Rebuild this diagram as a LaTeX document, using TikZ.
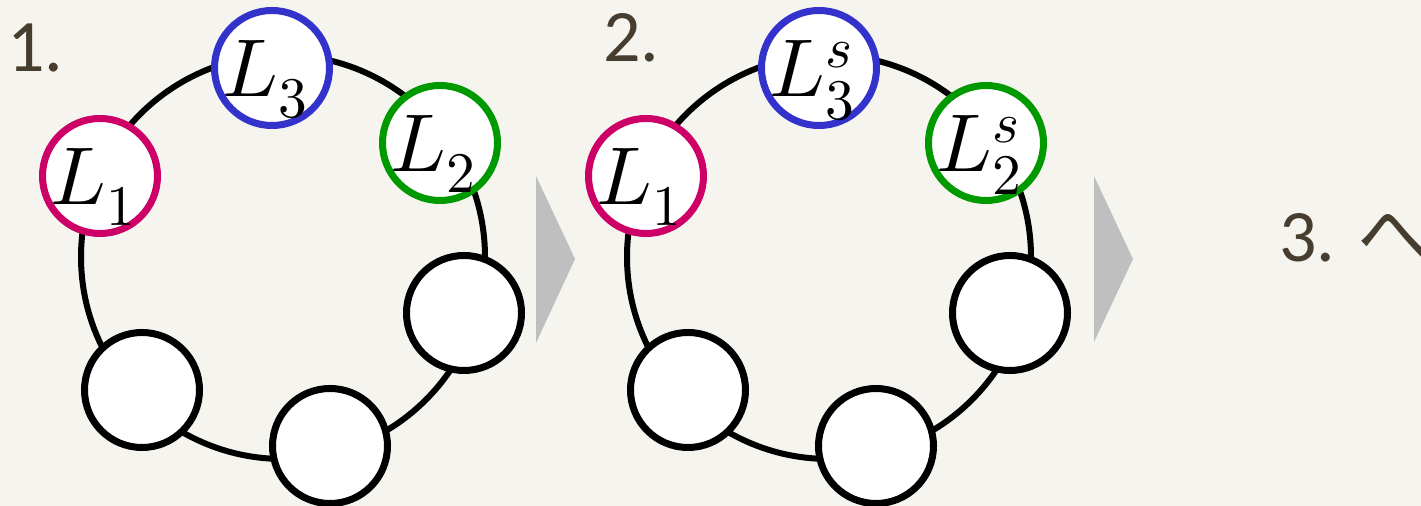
\documentclass[tikz,border=0pt]{standalone}
\usepackage{unicode-math}
\setmainfont{Carlito}
\setmathfont{Latin Modern Math}
\newfontfamily\jpfont{Noto Sans CJK JP}

\definecolor{bg}{HTML}{F5F4EF}
\definecolor{ink}{HTML}{473D2E}
\definecolor{lmag}{HTML}{CC0066}
\definecolor{lblue}{HTML}{3333CC}
\definecolor{lgreen}{HTML}{009900}
\definecolor{chev}{HTML}{BFBFBF}

\tikzset{
  site/.style={circle, draw=black, fill=white, line width=3.5pt,
               minimum size=57.5pt, inner sep=0pt},
  ringline/.style={line width=3pt, draw=black},
  lab/.style={anchor=base west, inner sep=0pt, font=\fontsize{41}{41}\selectfont},
  stepnum/.style={anchor=base west, inner sep=0pt, text=ink,
                  font=\fontsize{37}{37}\selectfont},
  chevron/.style={fill=chev, draw=none},
}

\begin{document}
\begin{tikzpicture}[x=0.5pt,y=-0.5pt]
\fill[bg] (0,0) rectangle (1421,506);
\useasboundingbox (0,0) rectangle (1421,506);

% ---- step 1 ring ----
\coordinate (c1) at (283,257);
\draw[ringline] (c1) circle[radius=202];
\node[site, draw=lmag]   (a1) at (100,176) {};
\node[site, draw=lblue]  (a3) at (272,68)  {};
\node[site, draw=lgreen] (a2) at (440,143) {};
\node[site] (a4) at (464,313) {};
\node[site] (a5) at (330,446) {};
\node[site] (a6) at (142,390) {};
\node[lab] (a1t) at ([shift={(-50,29)}]a1.center) {$L_1$};
\node[lab] (a3t) at ([shift={(-50,29)}]a3.center) {$L_3$};
\node[lab] (a2t) at ([shift={(-50,29)}]a2.center) {$L_2$};

% ---- step 2 ring ----
\coordinate (c2) at (829,257);
\draw[ringline] (c2) circle[radius=202];
\node[site, draw=lmag]   (b1) at (646,176) {};
\node[site, draw=lblue]  (b3) at (819,68)  {};
\node[site, draw=lgreen] (b2) at (986,143) {};
\node[site] (b4) at (1010,313) {};
\node[site] (b5) at (876,446) {};
\node[site] (b6) at (688,390) {};
\node[lab] (b1t) at ([shift={(-50,29)}]b1.center) {$L_1$};
\node[lab] (b3t) at ([shift={(-50,29)}]b3.center) {$L_3^s$};
\node[lab] (b2t) at ([shift={(-50,29)}]b2.center) {$L_2^s$};

% ---- step arrows ----
\fill[chevron] (536,176) -- (575,259) -- (536,343) -- cycle;
\fill[chevron] (1094,176) -- (1133,259) -- (1094,342) -- cycle;

% ---- step numbers ----
\node[stepnum] (n1) at (7,72) {1.};
\node[stepnum] (n2) at (603,62) {2.};
\node[stepnum] (n3) at (1279,262) {3. {\jpfont へ}};
\end{tikzpicture}
\end{document}
